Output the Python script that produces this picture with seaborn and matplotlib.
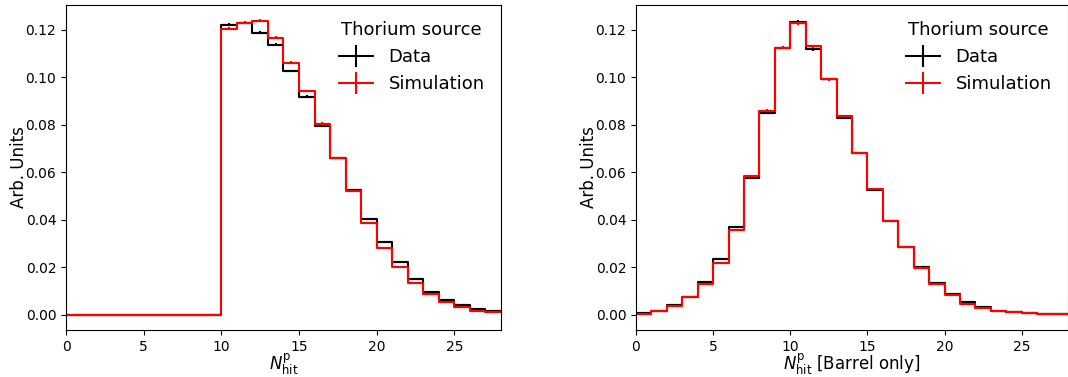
import numpy as np
import pandas as pd
import matplotlib
matplotlib.use("Agg")
import matplotlib.pyplot as plt
from matplotlib.legend_handler import HandlerErrorbar
from matplotlib.container import ErrorbarContainer
import seaborn as sns

sns.set_style("ticks", rc={"axes.edgecolor": "black", "text.color": "black",
                           "xtick.color": "black", "ytick.color": "black",
                           "axes.labelcolor": "black"})
plt.rcParams['font.family'] = ['DejaVu Sans']

edges = list(range(0, 29))

# Left panel: N_hit^p
left_data = [0, 0, 0, 0, 0, 0, 0, 0, 0, 0,
             0.1221, 0.1229, 0.1187, 0.1137, 0.1027, 0.0919, 0.0794, 0.0660, 0.0526,
             0.0404, 0.0306, 0.0222, 0.0150, 0.0098, 0.0063, 0.0041, 0.0024, 0.0017]
left_sim = [0, 0, 0, 0, 0, 0, 0, 0, 0, 0,
            0.1204, 0.1229, 0.1238, 0.1166, 0.1062, 0.0943, 0.0805, 0.0660, 0.0523,
            0.0387, 0.0283, 0.0201, 0.0136, 0.0088, 0.0053, 0.0032, 0.0016, 0.0011]

# Right panel: N_hit^p [Barrel only]
right_data = [0.0006, 0.0018, 0.0041, 0.0077, 0.0139, 0.0234, 0.0370, 0.0575, 0.0849,
              0.1125, 0.1235, 0.1118, 0.0992, 0.0828, 0.0681, 0.0525, 0.0397, 0.0287,
              0.0203, 0.0133, 0.0090, 0.0053, 0.0032, 0.0017, 0.0013, 0.0008, 0.0005, 0.0003]
right_sim = [0.0005, 0.0018, 0.0036, 0.0077, 0.0129, 0.0220, 0.0356, 0.0585, 0.0860,
             0.1125, 0.1228, 0.1130, 0.0992, 0.0838, 0.0681, 0.0532, 0.0397, 0.0285,
             0.0197, 0.0129, 0.0085, 0.0048, 0.0027, 0.0015, 0.0011, 0.0008, 0.0005, 0.0003]

xlabels = [r"$N_{\rm hit}^{\rm p}$", r"$N_{\rm hit}^{\rm p}$ [Barrel only]"]
series_labels = ["Data", "Simulation"]
legend_title = "Thorium source"
ylabel = "Arb. Units"

fig = plt.figure(figsize=(10.68, 3.77), dpi=100)
ax1 = fig.add_axes([0.0618, 0.125, 0.4072, 0.862])
ax2 = fig.add_axes([0.5955, 0.125, 0.4045, 0.862])

centers = np.array(edges[:-1]) + 0.5

for ax, d, s, xl in [(ax1, left_data, left_sim, xlabels[0]),
                     (ax2, right_data, right_sim, xlabels[1])]:
    handles = []
    for vals, color, lab in [(d, "black", series_labels[0]), (s, "red", series_labels[1])]:
        vals = np.array(vals)
        df = pd.DataFrame({"x": centers, "w": vals})
        sns.histplot(data=df, x="x", weights="w", bins=edges, element="step",
                     fill=False, color=color, linewidth=1.5, ax=ax)
        err = np.sqrt(vals) * 0.0018
        h = ax.errorbar(centers, vals, xerr=0.5, yerr=err, fmt="none",
                        ecolor=color, elinewidth=1.5, label=lab)
        handles.append(h)
    ax.set_xlim(0, 28)
    ax.set_ylim(-0.0063, 0.1305)
    ax.set_xticks([0, 5, 10, 15, 20, 25])
    ax.set_yticks([0.0, 0.02, 0.04, 0.06, 0.08, 0.10, 0.12])
    ax.yaxis.set_major_formatter(matplotlib.ticker.FormatStrFormatter("%.2f"))
    ax.set_xlabel(xl, fontsize=12, labelpad=-1.5)
    ax.set_ylabel(ylabel, fontsize=12, labelpad=-2)
    ax.tick_params(labelsize=10)
    ax.legend(handles=handles, labels=series_labels, title=legend_title,
              loc="upper right", frameon=False, fontsize=13, title_fontsize=13,
              handler_map={ErrorbarContainer: HandlerErrorbar(xerr_size=1.0, yerr_size=0.6)})
    for sp in ax.spines.values():
        sp.set_visible(True)

fig.savefig("out.png", dpi=100)
